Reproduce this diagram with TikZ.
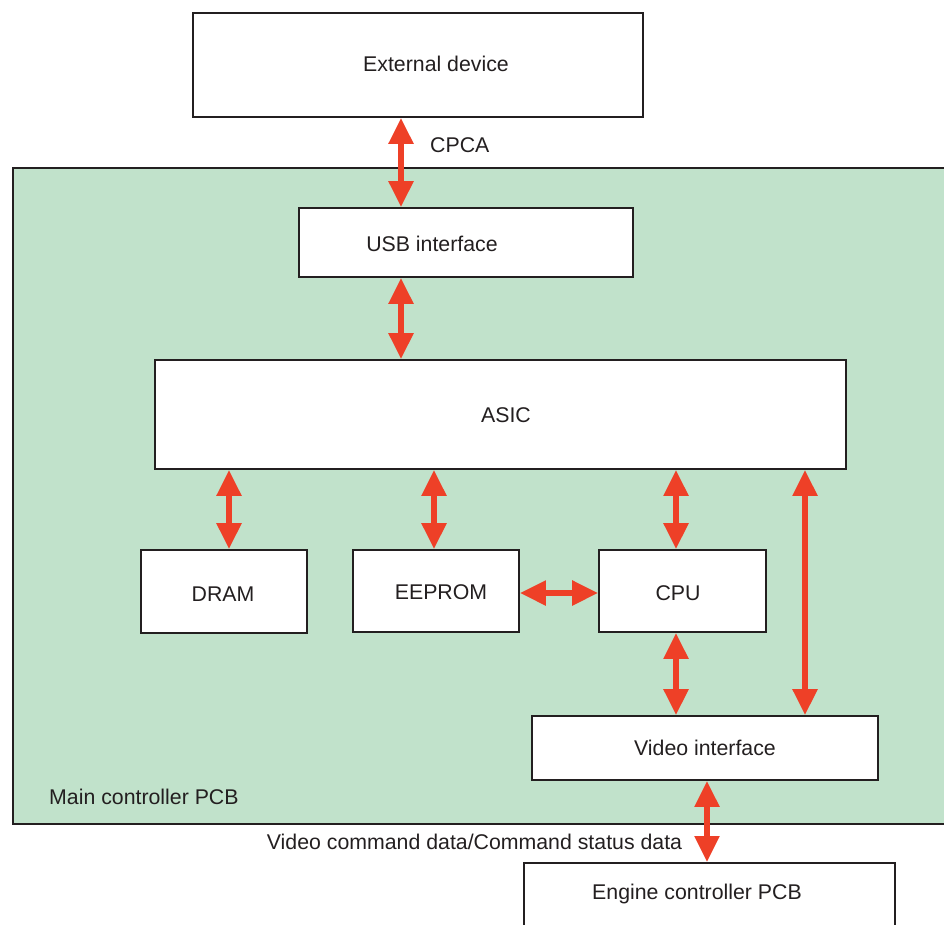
\documentclass[tikz,border=0pt]{standalone}
\usepackage{fontspec}
\setmainfont{Liberation Sans}
\usetikzlibrary{arrows.meta}
\definecolor{pcbgreen}{HTML}{C1E2CB}
\definecolor{arrred}{HTML}{EE4027}
\definecolor{ink}{HTML}{231F20}
\tikzset{
  box/.style={draw=ink, line width=1.8pt, fill=white, inner sep=0pt},
  txt/.style={text=ink, font=\fontsize{21.3}{25}\selectfont, inner sep=0pt},
  arr/.style={draw=arrred, line width=5.5pt, {Triangle[width=24pt,length=26pt]}-{Triangle[width=24pt,length=26pt]}, shorten <=0pt, shorten >=0pt},
}
\begin{document}
\begin{tikzpicture}[x=1pt,y=-1pt]
\useasboundingbox (0,0) rectangle (944,924);
\clip (0,0) rectangle (944,924);
% main PCB
\node[box, fill=pcbgreen, minimum width=950pt, minimum height=656pt, anchor=north west] (pcb) at (12,167) {};
\node[txt, anchor=west] (pcbl) at (49,797) {Main controller PCB};
% boxes
\node[box, minimum width=450pt, minimum height=104pt] (ext) at (418,65) {};
\node[txt] (extl) at (436,64) {External device};
\node[box, minimum width=334pt, minimum height=69pt] (usb) at (466,242.5) {};
\node[txt] (usbl) at (432,244) {USB interface};
\node[box, minimum width=691pt, minimum height=109pt] (asic) at (500.5,414.5) {};
\node[txt] (asicl) at (506,415) {ASIC};
\node[box, minimum width=166pt, minimum height=83pt] (dram) at (224,591.5) {};
\node[txt] (draml) at (223,594) {DRAM};
\node[box, minimum width=166pt, minimum height=82pt] (eeprom) at (436,591) {};
\node[txt] (eeproml) at (441,592) {EEPROM};
\node[box, minimum width=167pt, minimum height=82pt] (cpu) at (682.5,591) {};
\node[txt] (cpul) at (678,593) {CPU};
\node[box, minimum width=346pt, minimum height=64pt] (vid) at (705,748) {};
\node[txt] (vidl) at (705,748) {Video interface};
\node[box, minimum width=371pt, minimum height=100pt, anchor=north] (eng) at (709.5,862) {};
\node[txt] (engl) at (697,894) {Engine controller PCB};
% labels
\node[txt, anchor=west] (cpca) at (430,145) {CPCA};
\node[txt] (vcd) at (474.5,842) {Video command data/Command status data};
% arrow x positions
\coordinate (xa) at (401,0);
\coordinate (xd) at (229,0);
\coordinate (xe) at (434,0);
\coordinate (xc) at (676,0);
\coordinate (xv) at (805,0);
\coordinate (xg) at (707,0);
\coordinate (yh) at (0,593);
% arrows
\draw[arr] (ext.south -| xa) -- (usb.north -| xa);
\draw[arr] (usb.south -| xa) -- (asic.north -| xa);
\draw[arr] (asic.south -| xd) -- (dram.north -| xd);
\draw[arr] (asic.south -| xe) -- (eeprom.north -| xe);
\draw[arr] (asic.south -| xc) -- (cpu.north -| xc);
\draw[arr] (asic.south -| xv) -- (vid.north -| xv);
\draw[arr] (cpu.south -| xc) -- (vid.north -| xc);
\draw[arr] (eeprom.east |- yh) -- (cpu.west |- yh);
\draw[arr] (vid.south -| xg) -- (eng.north -| xg);
\end{tikzpicture}
\end{document}
